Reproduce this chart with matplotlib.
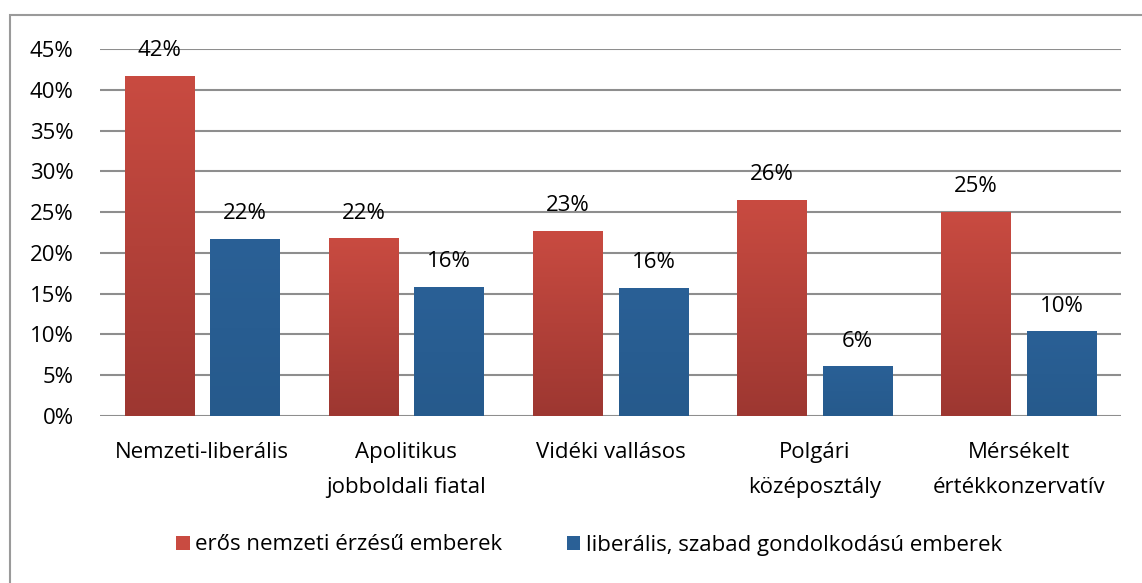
import numpy as np
import matplotlib
matplotlib.use("Agg")
import matplotlib.pyplot as plt
from matplotlib.patches import Rectangle, Patch
from matplotlib.colors import LinearSegmentedColormap

plt.rcParams["font.family"] = ["Open Sans", "DejaVu Sans"]

categories = ["Nemzeti-liberális", "Apolitikus\njobboldali fiatal", "Vidéki vallásos",
              "Polgári\nközéposztály", "Mérsékelt\nértékkonzervatív"]
nemzeti = [41.7, 21.8, 22.7, 26.5, 25.0]
liberalis = [21.7, 15.8, 15.7, 6.1, 10.4]
nemzeti_labels = ["42%", "22%", "23%", "26%", "25%"]
liberalis_labels = ["22%", "16%", "16%", "6%", "10%"]
series_names = ["erős nemzeti érzésű emberek", "liberális, szabad gondolkodású emberek"]

RED_TOP, RED_BOT = "#C94B41", "#9D3731"
BLUE_TOP, BLUE_BOT = "#2A6096", "#265A8C"
GRID = "#8E8E8E"
FS = 16

fig = plt.figure(figsize=(11.42, 5.83), dpi=100)
# outer chart frame (runs off the right/bottom edge like the source)
fig.patches.append(Rectangle((10 / 1142, -0.02), 1.05, (583 - 15) / 583 + 0.02,
                             transform=fig.transFigure, fill=False,
                             edgecolor="#9A9A9A", lw=1.5, zorder=0))

ax = fig.add_axes([100 / 1142, (583 - 416) / 583, 1021 / 1142, (416 - 49) / 583])
x = np.arange(len(categories))
w = 0.34
off = 0.21


def grad_bars(xs, vals, top, bot):
    bars = ax.bar(xs, vals, width=w, color=bot, zorder=3, linewidth=0)
    cmap = LinearSegmentedColormap.from_list("g", [bot, top])
    grad = np.linspace(0, 1, 256).reshape(-1, 1)
    for b in bars:
        x0, y0 = b.get_x(), b.get_y()
        im = ax.imshow(grad, cmap=cmap, origin="lower", aspect="auto",
                       extent=(x0, x0 + b.get_width(), y0, y0 + b.get_height()),
                       zorder=3.5)
        im.set_clip_path(b)
    return bars


grad_bars(x - off, nemzeti, RED_TOP, RED_BOT)
grad_bars(x + off, liberalis, BLUE_TOP, BLUE_BOT)

for xi, v, lab in zip(x - off, nemzeti, nemzeti_labels):
    ax.text(xi, v + 1.8, lab, ha="center", va="bottom", fontsize=FS, zorder=5)
for xi, v, lab in zip(x + off, liberalis, liberalis_labels):
    ax.text(xi, v + 1.8, lab, ha="center", va="bottom", fontsize=FS, zorder=5)

ax.set_xlim(-0.5, len(categories) - 0.5)
ax.set_ylim(0, 45)
ax.set_yticks(np.arange(0, 46, 5))
ax.set_yticklabels([f"{t}%" for t in range(0, 46, 5)], fontsize=FS)
ax.set_xticks(x)
ax.set_xticklabels(categories, fontsize=FS, linespacing=1.85, va="top")
ax.tick_params(length=0)
ax.tick_params(axis="y", pad=19)
ax.tick_params(axis="x", pad=19)
ax.grid(axis="y", color=GRID, lw=1.5, zorder=1)
ax.set_axisbelow(True)
for s in ax.spines.values():
    s.set_visible(False)

handles = [Patch(facecolor=RED_TOP, edgecolor="none"), Patch(facecolor=BLUE_TOP, edgecolor="none")]
fig.legend(handles, series_names, loc="center", bbox_to_anchor=(589 / 1142, 1 - 545 / 583),
           ncol=2, frameon=False, fontsize=FS, handlelength=0.6, handleheight=0.6,
           handletextpad=0.25, columnspacing=2.9)

fig.savefig("out.png", dpi=100)
